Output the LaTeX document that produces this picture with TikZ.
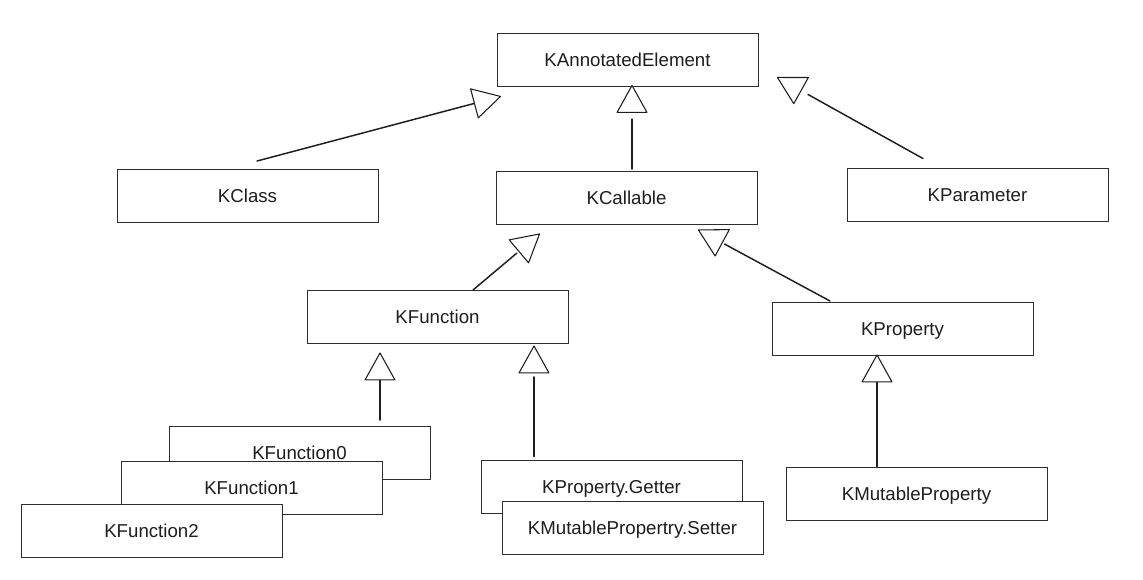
\documentclass[tikz,border=0pt]{standalone}
\usepackage{fontspec}
\setmainfont{Liberation Sans}
\usetikzlibrary{calc}
\definecolor{ink}{RGB}{30,30,30}
\definecolor{boxline}{RGB}{45,45,45}
\tikzset{
  box/.style={draw=boxline, fill=white, line width=0.7pt, rectangle,
    minimum width=195.75pt, minimum height=39.75pt, inner sep=0pt,
    text height=10pt, text depth=0pt,
    font=\fontsize{14}{16}\selectfont, text=ink},
  conn/.style={draw=ink, line width=1.1pt, line cap=round},
  head/.style={draw=ink, line width=0.8pt, line join=round, fill=white}
}
% #1 start coordinate, #2 tip coordinate, #3 gap between line and triangle base
\newcommand\inharrow[3]{%
  \coordinate (hb) at ($(#2)!20.25pt!(#1)$);
  \coordinate (le) at ($(#2)!{20.25pt+#3}!(#1)$);
  \draw[conn] (#1) -- (le);
  \draw[head] (#2) -- ($(hb)!11.25pt!90:(#2)$) -- ($(hb)!11.25pt!-90:(#2)$) -- cycle;
}
\begin{document}
\begin{tikzpicture}[x=0.75pt,y=-0.75pt]
\useasboundingbox (0,0) rectangle (1143,580);

\node[box] (kae) at (627.5,59.5) {KAnnotatedElement};
\node[box] (kclass) at (247.5,196) {KClass};
\node[box] (kcallable) at (626.5,198) {KCallable};
\node[box] (kparam) at (977.5,194.5) {KParameter};
\node[box] (kfunc) at (437.5,317) {KFunction};
\node[box] (kprop) at (902.5,329) {KProperty};
\node[box] (kf0) at (299.5,452.5) {KFunction0};
\node[box] (kf1) at (251.5,488) {KFunction1};
\node[box] (kf2) at (151.5,530.5) {KFunction2};
\node[box] (kget) at (611.5,486.5) {KProperty.Getter};
\node[box] (kset) at (632.5,528) {KMutablePropertry.Setter};
\node[box] (kmut) at (916.5,494) {KMutableProperty};

% start and tip points of the generalisation connectors
\coordinate (s1) at ($(kclass.north)+(9.5,-8)$);
\coordinate (t1) at ($(kae.south west)+(4,10)$);
\coordinate (s2) at ($(kcallable.north)+(5.5,-2)$);
\coordinate (t2) at ($(kae.south)+(4.5,-1)$);
\coordinate (s3) at ($(kparam.north)+(-54.5,-9)$);
\coordinate (t3) at ($(kae.south east)+(19,-9)$);
\coordinate (s4) at ($(kfunc.north)+(35.5,0)$);
\coordinate (t4) at ($(kcallable.south west)+(44,9)$);
\coordinate (s5) at ($(kprop.north)+(-72.5,-1)$);
\coordinate (t5) at ($(kcallable.south east)+(-59,5)$);
\coordinate (s6) at ($(kf0.north)+(80.5,-5.5)$);
\coordinate (t6) at ($(kfunc.south)+(-57.5,9)$);
\coordinate (s7) at ($(kget.north)+(-77.5,-3)$);
\coordinate (t7) at ($(kfunc.south)+(96.5,2)$);
\coordinate (s8) at ($(kmut.north)+(-39.5,-0.5)$);
\coordinate (t8) at ($(kprop.south)+(-25.5,-1)$);

\inharrow{s1}{t1}{0}
\inharrow{s2}{t2}{5}
\inharrow{s3}{t3}{6}
\inharrow{s4}{t4}{2}
\inharrow{s5}{t5}{2}
\inharrow{s6}{t6}{0}
\inharrow{s7}{t7}{3}
\inharrow{s8}{t8}{0}
\end{tikzpicture}
\end{document}
